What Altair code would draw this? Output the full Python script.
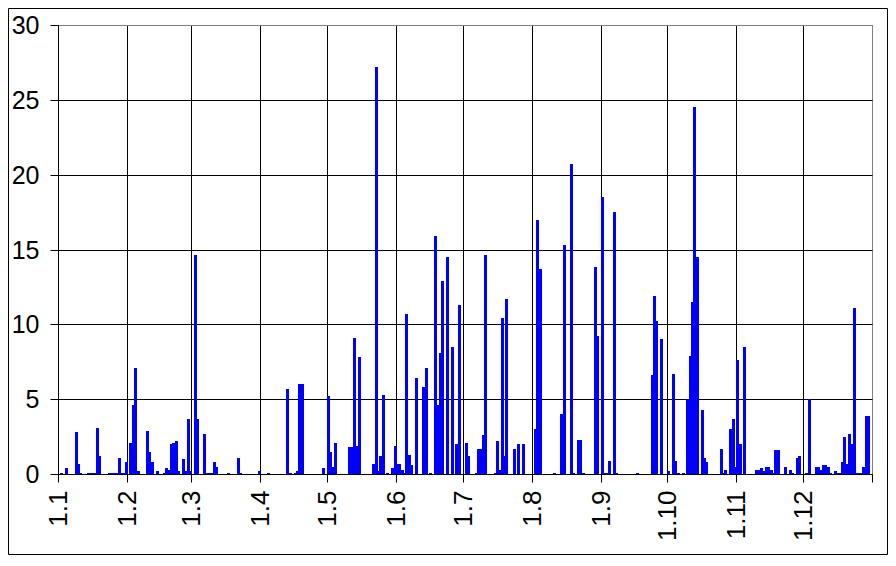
import altair as alt
import pandas as pd

# group labels on the category axis and how many categories each group holds
group_labels = ["1.1", "1.2", "1.3", "1.4", "1.5", "1.6", "1.7", "1.8", "1.9", "1.10", "1.11", "1.12"]
group_sizes = [29, 27, 29, 28, 29, 28, 29, 29, 28, 29, 28, 29]

# non-zero categories (position along the axis) and their values
bar_index = [1, 3, 7, 8, 9, 12, 13, 14, 15, 16, 17, 21, 22, 23, 24, 25, 26, 27, 28,
             30, 31, 32, 33, 37, 38, 39, 41, 44, 45, 46, 47, 48, 49, 50, 52, 53, 54, 55,
             57, 58, 61, 62, 63, 64, 65, 66, 71, 75, 76, 84, 88, 96, 97, 99, 100, 101, 102,
             111, 113, 114, 115, 116, 122, 123, 124, 125, 126, 132, 133, 134, 135, 136, 138,
             140, 141, 142, 143, 144, 145, 146, 147, 148, 150, 153, 154, 156, 158, 159, 160,
             161, 163, 165, 167, 168, 171, 172, 175, 176, 177, 178, 179, 183, 184, 185, 186,
             187, 188, 191, 193, 195, 200, 201, 202, 208, 211, 212, 215, 216, 218, 219, 220,
             225, 226, 228, 229, 230, 231, 233, 234, 243, 249, 250, 251, 253, 256, 258, 259,
             260, 262, 264, 265, 266, 267, 268, 270, 271, 272, 278, 279, 280, 282, 283, 284,
             285, 286, 288, 293, 294, 295, 296, 297, 298, 299, 300, 301, 302, 305, 307, 308,
             310, 311, 314, 315, 318, 319, 320, 321, 322, 323, 324, 326, 327, 328, 329, 330,
             331, 332, 333, 334, 335, 336, 337, 338, 339, 340]
bar_value = [0.05, 0.4, 2.8, 0.67, 0.09, 0.05, 0.05, 0.05, 0.05, 3.07, 1.2, 0.04, 0.04, 0.04, 0.04, 1.07, 0.05, 0.05, 0.8,
             2.07, 4.6, 7.08, 0.2, 2.87, 1.47, 0.8, 0.2, 0.05, 0.4, 0.27, 2.0, 2.07, 2.2, 0.2, 1.0, 0.2, 3.67, 0.2,
             14.63, 3.67, 2.67, 0.05, 0.05, 0.05, 0.8, 0.47, 0.05, 1.07, 0.05, 0.2, 0.05, 5.68, 0.05, 0.05, 0.2, 6.0, 6.0,
             0.4, 5.2, 1.47, 0.47, 2.07, 1.8, 1.8, 9.1, 1.87, 7.82, 0.67, 27.19, 0.2, 1.2, 5.28, 0.05,
             0.4, 1.87, 0.67, 0.67, 0.27, 0.05, 10.69, 1.27, 0.6, 6.41, 5.81, 7.08, 0.05, 15.9, 4.6, 8.08,
             12.9, 14.5, 8.49, 2.0, 11.29, 2.07, 1.2, 0.05, 1.67, 1.67, 2.6, 14.63, 0.05, 2.2, 0.27, 10.42,
             1.2, 11.69, 1.67, 2.0, 2.0, 3.0, 16.97, 13.7, 0.05, 4.0, 15.3, 20.71, 0.05, 2.27, 2.27, 0.05,
             13.83, 9.22, 18.5, 0.05, 0.05, 0.87, 17.5, 0.05, 0.05, 6.61, 11.89, 10.22, 9.02, 0.2, 6.68, 0.87,
             0.05, 0.05, 5.01, 7.88, 11.49, 24.52, 14.5, 4.28, 1.07, 0.8, 1.67, 0.05, 0.27, 3.0, 3.67, 0.47,
             7.62, 2.0, 8.49, 0.27, 0.27, 0.4, 0.2, 0.47, 0.47, 0.27, 0.05, 1.6, 1.6, 0.47, 0.27, 0.05,
             1.07, 1.2, 0.05, 5.01, 0.47, 0.47, 0.27, 0.6, 0.6, 0.47, 0.05, 0.2, 0.05, 0.05, 0.8, 2.47,
             0.67, 2.67, 2.0, 11.09, 0.05, 0.05, 0.05, 0.47, 3.88, 3.88]

y_ticks = [0, 5, 10, 15, 20, 25, 30]

# derived tables
starts = [0]
for n in group_sizes:
    starts.append(starts[-1] + n)
n_total = starts[-1]
tick_labels = group_labels + [""]

df = pd.DataFrame({"i": bar_index, "v": bar_value})

W, H = 814, 449
PL, PT, PR, PB = 50, 17, 16, 81

label_expr = "[" + ",".join("'%s'" % t for t in tick_labels) + "][indexof([" + \
    ",".join(str(s) for s in starts) + "], datum.value)]"

bars = alt.Chart(df).mark_rect(
    color="#0000FF", strokeWidth=0, x2Offset=3
).encode(
    x=alt.X("i:Q",
            scale=alt.Scale(domain=[0, n_total], nice=False, zero=False, round=True),
            axis=alt.Axis(values=starts, labelExpr=label_expr, title=None,
                          labelAngle=270, labelFlush=False, labelOverlap=False,
                          tickSize=8, labelPadding=8, labelFontSize=26,
                          gridColor={"condition": {"test": "datum.value == %d" % n_total, "value": "#808080"},
                                     "value": "black"})),
    x2="i:Q",
    y=alt.Y("v:Q",
            scale=alt.Scale(domain=[0, 30], nice=False, round=True),
            axis=alt.Axis(values=y_ticks, title=None, tickSize=8, labelPadding=11,
                          labelFontSize=25, labelFlush=False,
                          gridColor={"condition": {"test": "datum.value == 30", "value": "#808080"},
                                     "value": "black"})),
    y2=alt.datum(0),
)

frame = alt.Chart(pd.DataFrame({"k": [0]})).mark_rect(
    fillOpacity=0, stroke="black", strokeWidth=1
).encode(
    x=alt.value(-PL + 0.5), x2=alt.value(W + PR - 0.5),
    y=alt.value(-PT + 0.5), y2=alt.value(H + PB - 0.5),
)

chart = alt.layer(bars, frame).properties(
    width=W, height=H,
    autosize=alt.AutoSizeParams(type="none"),
    padding={"left": PL, "top": PT, "right": PR, "bottom": PB},
).configure_view(
    stroke="#808080", strokeWidth=1
).configure_axis(
    labelFont="Liberation Sans", labelColor="black", domainColor="black",
    tickColor="black", gridWidth=1, domainWidth=1, tickWidth=1, gridOpacity=1
)

chart.save("out.html", embed_options={"renderer": "svg", "actions": False})
